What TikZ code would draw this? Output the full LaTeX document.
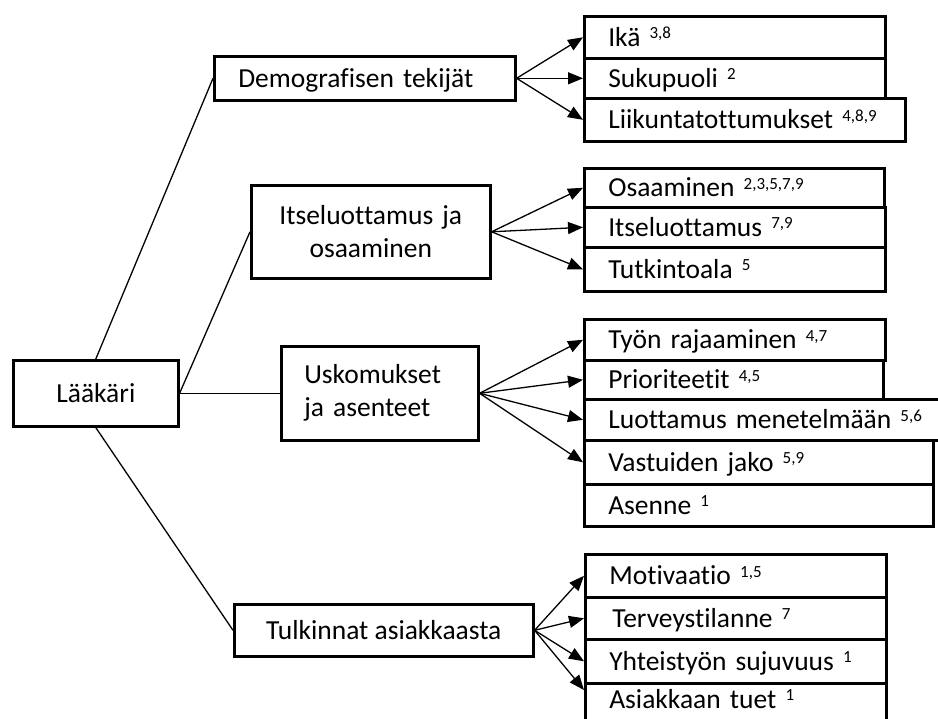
\documentclass[tikz,border=0pt]{standalone}
\usepackage{fontspec}
\setmainfont[Ligatures={NoCommon}]{Carlito}
\usetikzlibrary{arrows.meta}
\newcommand\sps[1]{\raisebox{7.5pt}{\fontsize{17}{17}\selectfont #1}}
% name, x, y, text width, height, text
\newcommand\rbx[6]{\node[rbox, text width=#4pt, minimum height=#5pt] (#1) at (#2,#3) {\mbox{#6}};}
\begin{document}
\begin{tikzpicture}[x=1pt,y=-1pt,
  every node/.style={font=\fontsize{27.5}{33}\selectfont},
  bx/.style={draw, line width=2.6pt, anchor=north west, inner ysep=0pt},
  one/.style={text height=18pt, text depth=0pt},
  rbox/.style={bx, one, inner xsep=24pt, align=left},
  conn/.style={line width=1.3pt},
  arr/.style={line width=1.3pt, -{Triangle[length=15pt,width=12pt]}}
]
\useasboundingbox (0,0) rectangle (938,719);
\clip (0,0) rectangle (938,719);

% left column
\node[bx, one, minimum width=165pt, minimum height=66pt, inner xsep=0pt] (laak) at (12,359) {Lääkäri};
\node[bx, one, inner xsep=24pt, text width=253pt, minimum height=44pt, align=left] (demo) at (213,55) {Demografisen tekijät};
\node[bx, inner xsep=10pt, text width=219pt, minimum height=93pt, align=center] (itse) at (250,184) {Itseluottamus ja\\osaaminen};
\node[bx, inner xsep=23pt, text width=151pt, minimum height=94pt, align=left] (usko) at (280,345) {Uskomukset\\ja asenteet};
\node[bx, one, minimum width=299pt, minimum height=52pt, inner xsep=0pt] (tulk) at (233,603) {Tulkinnat asiakkaasta};

% right column
\rbx{ika}{583}{15}{253}{42}{Ikä \sps{3,8}}
\rbx{suku}{583}{57}{253}{40}{Sukupuoli \sps{2}}
\rbx{liik}{583}{97}{273}{43}{Liikuntatottumukset \sps{4,8,9}}

\rbx{osaa}{583}{167}{252}{39}{Osaaminen \sps{2,3,5,7,9}}
\rbx{itsl}{583}{206}{253}{40}{Itseluottamus \sps{7,9}}
\rbx{tutk}{583}{246}{253}{44}{Tutkintoala \sps{5}}

\rbx{tyon}{583}{318}{253}{41}{Työn rajaaminen \sps{4,7}}
\rbx{prio}{583}{359}{251}{39}{Prioriteetit \sps{4,5}}
\rbx{luot}{583}{398}{317}{41}{Luottamus menetelmään \sps{5,6}}
\rbx{vast}{583}{439}{301}{44}{Vastuiden jako \sps{5,9}}
\rbx{asen}{583}{483}{301}{42}{Asenne \sps{1}}

\rbx{moti}{584}{553}{253}{43}{Motivaatio \sps{1,5}}
\rbx{terv}{584}{596}{253}{42}{\hspace{3pt}Terveystilanne \sps{7}}
\rbx{yhte}{584}{638}{253}{44}{Yhteistyön sujuvuus \sps{1}}
\node[rbox, text width=253pt, minimum height=48pt, text depth=16pt] (asia) at (584,682) {\mbox{Asiakkaan tuet \sps{1}}};

% connectors
\draw[conn] (laak.north) -- (demo.west);
\draw[conn] (laak.east) -- (itse.west);
\draw[conn] (laak.east) -- (usko.west);
\draw[conn] (laak.south) -- (tulk.west);

\foreach \t in {ika,suku,liik} \draw[arr] (demo.east) -- (\t.west);
\foreach \t in {osaa,itsl,tutk} \draw[arr] (itse.east) -- (\t.west);
\foreach \t in {tyon,prio,luot,vast} \draw[arr] (usko.east) -- (\t.west);
\foreach \t in {moti,terv,yhte} \draw[arr] (tulk.east) -- (\t.west);
\draw[arr] (tulk.east) -- ([yshift=-8pt]asia.north west);
\end{tikzpicture}
\end{document}
